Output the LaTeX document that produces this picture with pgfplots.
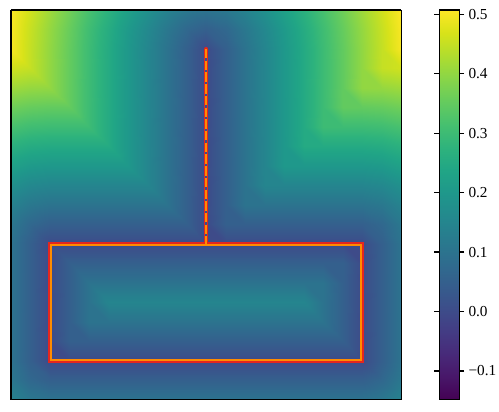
\documentclass[border=0pt]{standalone}
\usepackage{fontspec}
\setmainfont{Liberation Serif}
\usepackage{pgfplots}
\pgfplotsset{compat=1.18}
\definecolor{edgered}{RGB}{228,38,30}
\definecolor{edgeorange}{RGB}{255,140,0}
\definecolor{gapblue}{RGB}{62,75,137}
\begin{document}
\begin{tikzpicture}
\begin{axis}[
    name=main,
    scale only axis,
    width=281.5pt, height=280.8pt,
    view={0}{90},
    xmin=0, xmax=20, ymin=0, ymax=20,
    xtick=\empty, ytick=\empty, ztick=\empty,
    axis line style={line width=0.8pt, black},
    colormap/viridis,
    point meta min=-0.148, point meta max=0.507,
    colorbar,
    colorbar style={
        scale only axis,
        width=14.4pt,
        at={(parent axis.north east)}, anchor=north west, xshift=18.7pt,
        axis line style={line width=0.8pt, black},
        ytick={-0.1,0,0.1,0.2,0.3,0.4,0.5},
        yticklabels={−0.1,0.0,0.1,0.2,0.3,0.4,0.5},
        tick align=outside,
        major tick length=3.5pt,
        ytick style={line width=0.8pt, black},
        yticklabel style={font=\fontsize{11}{13}\selectfont, inner sep=2pt, xshift=1pt},
    },
]
% distance-like field, grid 21 x 21, rows from bottom (y=0) to top (y=20)
\addplot3[surf, shader=interp, mesh/cols=21, point meta=z] coordinates {
(0,0,.141) (1,0,.112) (2,0,.100) (3,0,.100) (4,0,.100) (5,0,.100) (6,0,.100) (7,0,.100) (8,0,.100) (9,0,.100) (10,0,.100) (11,0,.100) (12,0,.100) (13,0,.100) (14,0,.100) (15,0,.100) (16,0,.100) (17,0,.100) (18,0,.100) (19,0,.112) (20,0,.141)
(0,1,.112) (1,1,.071) (2,1,.050) (3,1,.050) (4,1,.050) (5,1,.050) (6,1,.050) (7,1,.050) (8,1,.050) (9,1,.050) (10,1,.050) (11,1,.050) (12,1,.050) (13,1,.050) (14,1,.050) (15,1,.050) (16,1,.050) (17,1,.050) (18,1,.050) (19,1,.071) (20,1,.112)
(0,2,.100) (1,2,.050) (2,2,.000) (3,2,.000) (4,2,.000) (5,2,.000) (6,2,.000) (7,2,.000) (8,2,.000) (9,2,.000) (10,2,.000) (11,2,.000) (12,2,.000) (13,2,.000) (14,2,.000) (15,2,.000) (16,2,.000) (17,2,.000) (18,2,.000) (19,2,.050) (20,2,.100)
(0,3,.100) (1,3,.050) (2,3,.000) (3,3,.050) (4,3,.050) (5,3,.050) (6,3,.050) (7,3,.050) (8,3,.050) (9,3,.050) (10,3,.050) (11,3,.050) (12,3,.050) (13,3,.050) (14,3,.050) (15,3,.050) (16,3,.050) (17,3,.050) (18,3,.000) (19,3,.050) (20,3,.100)
(0,4,.100) (1,4,.050) (2,4,.000) (3,4,.050) (4,4,.100) (5,4,.100) (6,4,.100) (7,4,.100) (8,4,.100) (9,4,.100) (10,4,.100) (11,4,.100) (12,4,.100) (13,4,.100) (14,4,.100) (15,4,.100) (16,4,.100) (17,4,.050) (18,4,.000) (19,4,.050) (20,4,.100)
(0,5,.100) (1,5,.050) (2,5,.000) (3,5,.050) (4,5,.100) (5,5,.150) (6,5,.150) (7,5,.150) (8,5,.150) (9,5,.150) (10,5,.150) (11,5,.150) (12,5,.150) (13,5,.150) (14,5,.150) (15,5,.150) (16,5,.100) (17,5,.050) (18,5,.000) (19,5,.050) (20,5,.100)
(0,6,.100) (1,6,.050) (2,6,.000) (3,6,.050) (4,6,.100) (5,6,.100) (6,6,.100) (7,6,.100) (8,6,.100) (9,6,.100) (10,6,.100) (11,6,.100) (12,6,.100) (13,6,.100) (14,6,.100) (15,6,.100) (16,6,.100) (17,6,.050) (18,6,.000) (19,6,.050) (20,6,.100)
(0,7,.100) (1,7,.050) (2,7,.000) (3,7,.050) (4,7,.050) (5,7,.050) (6,7,.050) (7,7,.050) (8,7,.050) (9,7,.050) (10,7,.050) (11,7,.050) (12,7,.050) (13,7,.050) (14,7,.050) (15,7,.050) (16,7,.050) (17,7,.050) (18,7,.000) (19,7,.050) (20,7,.100)
(0,8,.100) (1,8,.050) (2,8,.000) (3,8,.000) (4,8,.000) (5,8,.000) (6,8,.000) (7,8,.000) (8,8,.000) (9,8,.000) (10,8,.000) (11,8,.000) (12,8,.000) (13,8,.000) (14,8,.000) (15,8,.000) (16,8,.000) (17,8,.000) (18,8,.000) (19,8,.050) (20,8,.100)
(0,9,.112) (1,9,.071) (2,9,.050) (3,9,.050) (4,9,.050) (5,9,.050) (6,9,.050) (7,9,.050) (8,9,.050) (9,9,.050) (10,9,.000) (11,9,.050) (12,9,.050) (13,9,.050) (14,9,.050) (15,9,.050) (16,9,.050) (17,9,.050) (18,9,.050) (19,9,.071) (20,9,.112)
(0,10,.141) (1,10,.112) (2,10,.100) (3,10,.100) (4,10,.100) (5,10,.100) (6,10,.100) (7,10,.100) (8,10,.100) (9,10,.050) (10,10,.000) (11,10,.050) (12,10,.100) (13,10,.100) (14,10,.100) (15,10,.100) (16,10,.100) (17,10,.100) (18,10,.100) (19,10,.112) (20,10,.141)
(0,11,.180) (1,11,.158) (2,11,.150) (3,11,.150) (4,11,.150) (5,11,.150) (6,11,.150) (7,11,.150) (8,11,.100) (9,11,.050) (10,11,.000) (11,11,.050) (12,11,.100) (13,11,.150) (14,11,.150) (15,11,.150) (16,11,.150) (17,11,.150) (18,11,.150) (19,11,.158) (20,11,.180)
(0,12,.224) (1,12,.206) (2,12,.200) (3,12,.200) (4,12,.200) (5,12,.200) (6,12,.200) (7,12,.150) (8,12,.100) (9,12,.050) (10,12,.000) (11,12,.050) (12,12,.100) (13,12,.150) (14,12,.200) (15,12,.200) (16,12,.200) (17,12,.200) (18,12,.200) (19,12,.206) (20,12,.224)
(0,13,.269) (1,13,.255) (2,13,.250) (3,13,.250) (4,13,.250) (5,13,.250) (6,13,.200) (7,13,.150) (8,13,.100) (9,13,.050) (10,13,.000) (11,13,.050) (12,13,.100) (13,13,.150) (14,13,.200) (15,13,.250) (16,13,.250) (17,13,.250) (18,13,.250) (19,13,.255) (20,13,.269)
(0,14,.316) (1,14,.304) (2,14,.300) (3,14,.300) (4,14,.300) (5,14,.250) (6,14,.200) (7,14,.150) (8,14,.100) (9,14,.050) (10,14,.000) (11,14,.050) (12,14,.100) (13,14,.150) (14,14,.200) (15,14,.250) (16,14,.300) (17,14,.300) (18,14,.300) (19,14,.304) (20,14,.316)
(0,15,.364) (1,15,.354) (2,15,.350) (3,15,.350) (4,15,.300) (5,15,.250) (6,15,.200) (7,15,.150) (8,15,.100) (9,15,.050) (10,15,.000) (11,15,.050) (12,15,.100) (13,15,.150) (14,15,.200) (15,15,.250) (16,15,.300) (17,15,.350) (18,15,.350) (19,15,.354) (20,15,.364)
(0,16,.412) (1,16,.403) (2,16,.400) (3,16,.350) (4,16,.300) (5,16,.250) (6,16,.200) (7,16,.150) (8,16,.100) (9,16,.050) (10,16,.000) (11,16,.050) (12,16,.100) (13,16,.150) (14,16,.200) (15,16,.250) (16,16,.300) (17,16,.350) (18,16,.400) (19,16,.403) (20,16,.412)
(0,17,.461) (1,17,.450) (2,17,.400) (3,17,.350) (4,17,.300) (5,17,.250) (6,17,.200) (7,17,.150) (8,17,.100) (9,17,.050) (10,17,.000) (11,17,.050) (12,17,.100) (13,17,.150) (14,17,.200) (15,17,.250) (16,17,.300) (17,17,.350) (18,17,.400) (19,17,.450) (20,17,.461)
(0,18,.500) (1,18,.450) (2,18,.400) (3,18,.350) (4,18,.300) (5,18,.250) (6,18,.200) (7,18,.150) (8,18,.100) (9,18,.050) (10,18,.000) (11,18,.050) (12,18,.100) (13,18,.150) (14,18,.200) (15,18,.250) (16,18,.300) (17,18,.350) (18,18,.400) (19,18,.450) (20,18,.500)
(0,19,.502) (1,19,.453) (2,19,.403) (3,19,.354) (4,19,.304) (5,19,.255) (6,19,.206) (7,19,.158) (8,19,.112) (9,19,.071) (10,19,.050) (11,19,.071) (12,19,.112) (13,19,.158) (14,19,.206) (15,19,.255) (16,19,.304) (17,19,.354) (18,19,.403) (19,19,.453) (20,19,.502)
(0,20,.510) (1,20,.461) (2,20,.412) (3,20,.364) (4,20,.316) (5,20,.269) (6,20,.224) (7,20,.180) (8,20,.141) (9,20,.112) (10,20,.100) (11,20,.112) (12,20,.141) (13,20,.180) (14,20,.224) (15,20,.269) (16,20,.316) (17,20,.364) (18,20,.412) (19,20,.461) (20,20,.510)
};
% outline of the shape: red underneath, orange on top
\addplot3[edgered, line width=2.88pt, line join=miter] coordinates {(2,2,0) (18,2,0) (18,8,0) (2,8,0) (2,2,0) (18,2,0)};
\addplot3[edgered, line width=2.88pt, line cap=round] coordinates {(10,8,0) (10,18,0)};
\addplot3[gapblue, line width=1.3pt] coordinates {(10,8.1,0) (10,18,0)};
\addplot3[edgeorange, line width=1.44pt, line join=miter] coordinates {(2.05,2.05,0) (17.95,2.05,0) (17.95,7.95,0) (2.05,7.95,0) (2.05,2.05,0) (17.95,2.05,0)};
\addplot3[edgeorange, line width=1.44pt, dash pattern=on 6.8pt off 1.65pt] coordinates {(10,18,0) (10,7.95,0)};
\end{axis}
\path ([xshift=-7.9pt, yshift=-8.3pt]main.south west) rectangle ([xshift=69.8pt, yshift=7.2pt]main.north east);
\end{tikzpicture}
\end{document}
